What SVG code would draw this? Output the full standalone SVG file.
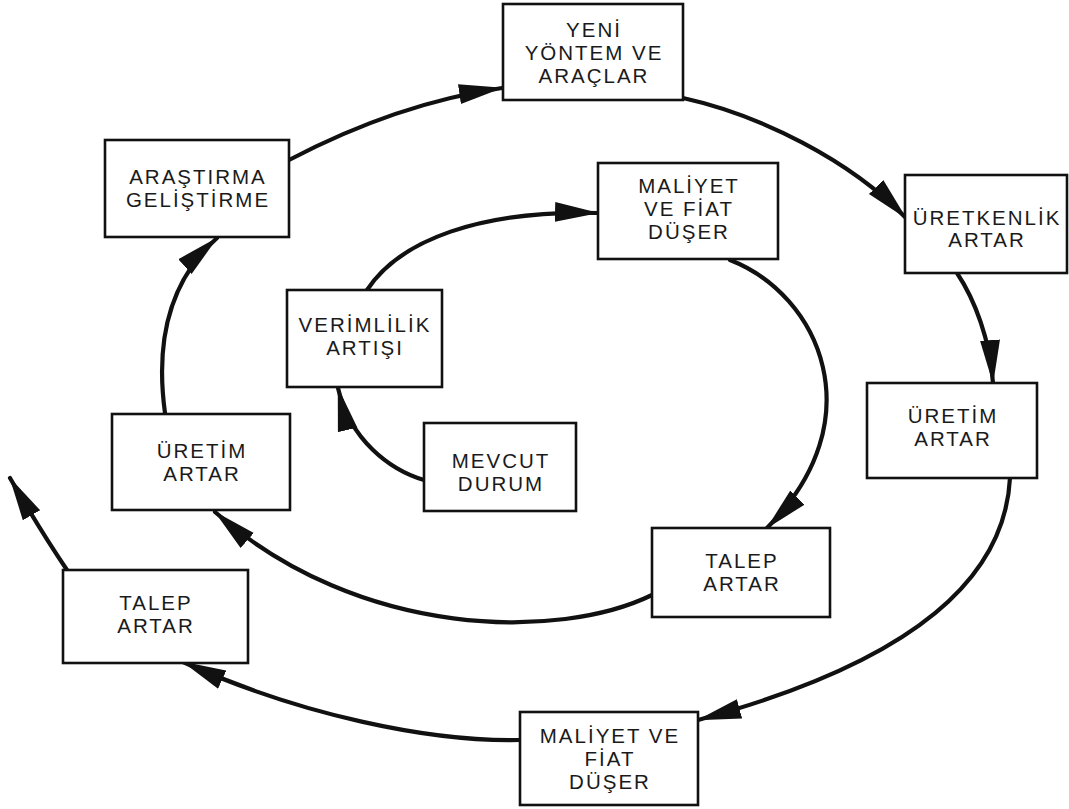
<svg xmlns="http://www.w3.org/2000/svg" width="1069" height="809" viewBox="0 0 1069 809">
<style>
.box{fill:#fff;stroke:#111;stroke-width:2.6}
.t{font-family:"Liberation Sans",Arial,sans-serif;font-size:20.5px;letter-spacing:2px;fill:#1a1a1a;text-anchor:middle}
.c{fill:none;stroke:#111;stroke-width:4.2;stroke-linecap:round}
</style>
<defs>
<marker id="ah" viewBox="0 0 44 22" refX="43" refY="11" markerWidth="44" markerHeight="22" markerUnits="userSpaceOnUse" orient="auto">
<path d="M0,1 L44,11 L0,21 z" fill="#111"/>
</marker>
</defs>
<rect width="1069" height="809" fill="#fff"/>
<g id="connectors">
<path class="c" marker-end="url(#ah)" d="M289,160 C350,128 420,100 502,88"/>
<path class="c" marker-end="url(#ah)" d="M683,98 C760,115 850,160 906,218"/>
<path class="c" marker-end="url(#ah)" d="M957,273 C975,300 990,340 993,383"/>
<path class="c" marker-end="url(#ah)" d="M1010,478 C1005,575 920,660 698,720"/>
<path class="c" marker-end="url(#ah)" d="M520,740 C430,742 300,715 183,662"/>
<path class="c" marker-end="url(#ah)" d="M67,570 Q40,530 10,478"/>
<path class="c" marker-end="url(#ah)" d="M424,480 C390,470 350,440 338,388"/>
<path class="c" marker-end="url(#ah)" d="M367,290 C400,240 480,210 598,213"/>
<path class="c" marker-end="url(#ah)" d="M730,260 C820,295 875,420 767,528"/>
<path class="c" marker-end="url(#ah)" d="M652,595 C560,640 360,640 215,512"/>
<path class="c" marker-end="url(#ah)" d="M165,413 C155,340 170,280 217,238"/>
</g>
<g id="n-yeni">
<rect class="box" x="503" y="4" width="180" height="96"/>
<text class="t" x="594" y="37">YENİ</text>
<text class="t" x="594" y="60">YÖNTEM VE</text>
<text class="t" x="594" y="83">ARAÇLAR</text>
</g>
<g id="n-arastirma">
<rect class="box" x="105" y="140" width="184" height="97"/>
<text class="t" x="198" y="184">ARAŞTIRMA</text>
<text class="t" x="198" y="207">GELİŞTİRME</text>
</g>
<g id="n-maliyet-ic">
<rect class="box" x="598" y="163" width="180" height="96"/>
<text class="t" x="689" y="193">MALİYET</text>
<text class="t" x="689" y="216">VE FİAT</text>
<text class="t" x="689" y="239">DÜŞER</text>
</g>
<g id="n-uretkenlik">
<rect class="box" x="905" y="175" width="162" height="98"/>
<text class="t" x="987" y="225">ÜRETKENLİK</text>
<text class="t" x="987" y="247">ARTAR</text>
</g>
<g id="n-verimlilik">
<rect class="box" x="287" y="290" width="155" height="97"/>
<text class="t" x="365" y="332">VERİMLİLİK</text>
<text class="t" x="365" y="355">ARTIŞI</text>
</g>
<g id="n-uretim-sag">
<rect class="box" x="867" y="383" width="170" height="95"/>
<text class="t" x="953" y="423">ÜRETİM</text>
<text class="t" x="953" y="446">ARTAR</text>
</g>
<g id="n-uretim-sol">
<rect class="box" x="112" y="414" width="178" height="96"/>
<text class="t" x="202" y="458">ÜRETİM</text>
<text class="t" x="202" y="481">ARTAR</text>
</g>
<g id="n-mevcut">
<rect class="box" x="424" y="423" width="152" height="88"/>
<text class="t" x="501" y="468">MEVCUT</text>
<text class="t" x="501" y="491">DURUM</text>
</g>
<g id="n-talep-sag">
<rect class="box" x="652" y="528" width="178" height="89"/>
<text class="t" x="742" y="568">TALEP</text>
<text class="t" x="742" y="591">ARTAR</text>
</g>
<g id="n-talep-sol">
<rect class="box" x="63" y="570" width="185" height="93"/>
<text class="t" x="156" y="610">TALEP</text>
<text class="t" x="156" y="633">ARTAR</text>
</g>
<g id="n-maliyet-alt">
<rect class="box" x="520" y="712" width="178" height="93"/>
<text class="t" x="610" y="743">MALİYET VE</text>
<text class="t" x="610" y="766">FİAT</text>
<text class="t" x="610" y="789">DÜŞER</text>
</g>
</svg>
